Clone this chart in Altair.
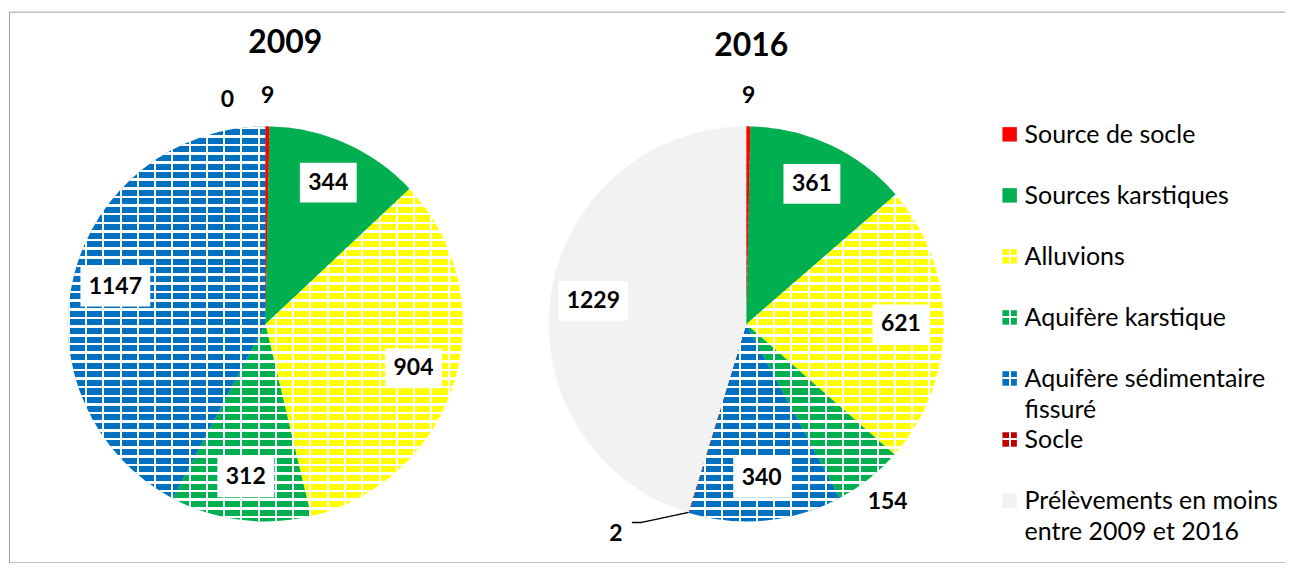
import altair as alt
import pandas as pd

# ---------------- data ----------------
years = ["2009", "2016"]
categories = [
    "Source de socle",
    "Sources karstiques",
    "Alluvions",
    "Aquifère karstique",
    "Aquifère sédimentaire fissuré",
    "Socle",
    "Prélèvements en moins entre 2009 et 2016",
]
legend_text = [
    "Source de socle",
    "Sources karstiques",
    "Alluvions",
    "Aquifère karstique",
    "Aquifère sédimentaire\nfissuré",
    "Socle",
    "Prélèvements en moins\nentre 2009 et 2016",
]
colors = ["#FF0000", "#00B050", "#FFFF00", "#00B050", "#0070C0", "#C00000", "#F2F2F2"]
patterned = [False, False, True, True, True, True, False]
values_2009 = [9, 344, 904, 312, 1147, 0]
values_2016 = [9, 361, 621, 154, 340, 2, 1229]

rows = []
for year, vals in zip(years, [values_2009, values_2016]):
    for i, v in enumerate(vals):
        rows.append({"year": year, "cat": categories[i], "order": i, "value": v, "pat": patterned[i]})
df = pd.DataFrame(rows)
legend_df = pd.DataFrame({"cat": categories, "text": legend_text, "pat": patterned})
title_df = pd.DataFrame({"year": years})

# ---------------- style ----------------
R = 198
LABEL_R = 155
WHITE = "#FFFFFF"
CLEAR = "rgba(255,255,255,0)"


def stripes(length, pitch, line, vertical):
    stops = []
    pos = 0.0
    while pos < length:
        a = pos / length
        b = min((pos + line) / length, 1.0)
        c = min((pos + pitch) / length, 1.0)
        stops += [
            alt.GradientStop(offset=a, color=WHITE),
            alt.GradientStop(offset=b, color=WHITE),
            alt.GradientStop(offset=b, color=CLEAR),
            alt.GradientStop(offset=c, color=CLEAR),
        ]
        pos += pitch
    if vertical:
        return alt.LinearGradient(gradient="linear", stops=stops, x1=0, x2=1, y1=0, y2=0)
    return alt.LinearGradient(gradient="linear", stops=stops, x1=0, x2=0, y1=0, y2=1)


h_grad = stripes(2 * R, 8.67, 2.6, False)
v_grad = stripes(2 * R, 17.3, 2.0, True)
sq_h = alt.LinearGradient(
    gradient="linear", x1=0, x2=0, y1=0, y2=1,
    stops=[alt.GradientStop(offset=0.0, color=CLEAR), alt.GradientStop(offset=0.42, color=CLEAR),
           alt.GradientStop(offset=0.42, color=WHITE), alt.GradientStop(offset=0.56, color=WHITE),
           alt.GradientStop(offset=0.56, color=CLEAR), alt.GradientStop(offset=1.0, color=CLEAR)])
sq_v = alt.LinearGradient(
    gradient="linear", x1=0, x2=1, y1=0, y2=0,
    stops=[alt.GradientStop(offset=0.0, color=CLEAR), alt.GradientStop(offset=0.44, color=CLEAR),
           alt.GradientStop(offset=0.44, color=WHITE), alt.GradientStop(offset=0.56, color=WHITE),
           alt.GradientStop(offset=0.56, color=CLEAR), alt.GradientStop(offset=1.0, color=CLEAR)])

CY = 313
X = alt.X("year:N", scale=alt.Scale(type="point", domain=years, range=[257, 739], padding=0), axis=None)
YC = alt.value(CY)
theta_scale = alt.Scale(domain=[0, 1], range=[0, 6.283185307179586])
color_scale = alt.Scale(domain=categories, range=colors)


def th(field):
    return alt.Theta(field, scale=theta_scale, stack=False)


base = (
    alt.Chart(df)
    .transform_joinaggregate(total="sum(value)", groupby=["year"])
    .transform_window(cum="sum(value)", groupby=["year"], sort=[alt.SortField("order", order="ascending")])
    .transform_calculate(
        s="(datum.cum - datum.value) / datum.total",
        e="datum.cum / datum.total",
        m="(datum.cum - datum.value / 2) / datum.total",
        lab="toString(datum.value)",
    )
)

pie = base.mark_arc(radius=R).encode(
    x=X, y=YC, theta=th("s:Q"), theta2="e:Q",
    color=alt.Color("cat:N", scale=color_scale, legend=None),
)
circle = base.transform_aggregate(s0="min(s)", e1="max(e)", groupby=["year"])
hstripe = circle.mark_arc(radius=R, fill=h_grad).encode(x=X, y=YC, theta=th("s0:Q"), theta2="e1:Q")
vstripe = circle.mark_arc(radius=R, fill=v_grad).encode(x=X, y=YC, theta=th("s0:Q"), theta2="e1:Q")
solid = base.transform_filter("!datum.pat").mark_arc(radius=R).encode(
    x=X, y=YC, theta=th("s:Q"), theta2="e:Q",
    color=alt.Color("cat:N", scale=color_scale, legend=None),
)

# white label boxes, positioned in cartesian offsets from each pie centre
inside = base.transform_filter("datum.value >= 200")
boxpos = inside.transform_calculate(
    ox=f"{LABEL_R / R} * sin(2 * PI * datum.m)",
    oy=f"{LABEL_R / R} * cos(2 * PI * datum.m)",
)
XO = alt.XOffset("ox:Q", scale=alt.Scale(domain=[-1, 1], range=[-R, R]))
YO = alt.Y("oy:Q", scale=alt.Scale(domain=[-1, 1], range=[CY + R, CY - R]), axis=None)
box3 = boxpos.transform_filter("length(datum.lab) <= 3").mark_point(
    shape="M-1,-0.70L1,-0.70L1,0.70L-1,0.70Z", size=57 * 57, filled=True, color="white", opacity=1
).encode(x=X, xOffset=XO, y=YO)
box4 = boxpos.transform_filter("length(datum.lab) > 3").mark_point(
    shape="M-1,-0.57L1,-0.57L1,0.57L-1,0.57Z", size=70 * 70, filled=True, color="white", opacity=1
).encode(x=X, xOffset=XO, y=YO)

lab_style = dict(font="Lato", fontWeight="bold", fontSize=23, color="black", align="center", baseline="middle")
labels_in = inside.mark_text(radius=LABEL_R, **lab_style).encode(x=X, y=YC, theta=th("m:Q"), text="lab:N")
labels_out = base.transform_filter("datum.value < 200 && datum.cat != 'Socle'").mark_text(
    radius=228, **lab_style).encode(x=X, y=YC, theta=th("m:Q"), text="lab:N")
socle09 = base.transform_filter("datum.year == '2009' && datum.cat == 'Socle'")
socle16 = base.transform_filter("datum.year == '2016' && datum.cat == 'Socle'")
lab_socle09 = socle09.mark_text(radius=228, dx=-38, dy=4, **lab_style).encode(
    x=X, y=YC, theta=th("m:Q"), text="lab:N")
lab_socle16 = socle16.mark_text(radius=198, dx=-73, dy=21, **lab_style).encode(
    x=X, y=YC, theta=th("m:Q"), text="lab:N")
lead_style = dict(font="DejaVu Sans Mono", fontSize=16, color="black", align="center", baseline="middle")
leader1 = socle16.mark_text(radius=198, angle=348, dx=-24, dy=0, **lead_style).encode(
    x=X, y=YC, theta=th("m:Q"), text=alt.value("─────"))
leader2 = socle16.mark_text(radius=198, dx=-52, dy=10, **lead_style).encode(
    x=X, y=YC, theta=th("m:Q"), text=alt.value("─"))

title_style = dict(font="Lato", fontWeight="bold", fontSize=32, color="black", align="center", baseline="alphabetic")
t09 = alt.Chart(title_df).transform_filter("datum.year == '2009'").mark_text(dx=20, **title_style).encode(
    x=X, y=alt.value(41), text="year:N")
t16 = alt.Chart(title_df).transform_filter("datum.year == '2016'").mark_text(dx=5, **title_style).encode(
    x=X, y=alt.value(44), text="year:N")

YL = alt.Y("cat:N", scale=alt.Scale(type="point", domain=categories, range=[123, 490], padding=0), axis=None)
lsq = alt.Chart(legend_df).mark_square(size=210, opacity=1).encode(
    x=alt.value(1003), y=YL, color=alt.Color("cat:N", scale=color_scale, legend=None))
lsq_h = alt.Chart(legend_df).transform_filter("datum.pat").mark_square(size=210, opacity=1, fill=sq_h).encode(
    x=alt.value(1003), y=YL)
lsq_v = alt.Chart(legend_df).transform_filter("datum.pat").mark_square(size=210, opacity=1, fill=sq_v).encode(
    x=alt.value(1003), y=YL)
ltext = alt.Chart(legend_df).mark_text(
    align="left", baseline="alphabetic", dy=9, lineBreak="\n", lineHeight=31,
    font="Lato", fontSize=25, color="black",
).encode(x=alt.value(1018), y=YL, text="text:N")

chart = (
    alt.layer(pie, hstripe, vstripe, solid, box3, box4, labels_in, labels_out, lab_socle09, lab_socle16,
              leader1, leader2, t09, t16, lsq, lsq_h, lsq_v, ltext)
    .resolve_scale(y="independent")
    .properties(width=1279, height=552, padding={"left": 1, "top": 3, "right": 0, "bottom": 0})
    .configure_view(stroke="#9d9d9d", strokeWidth=1)
)
chart.save("out.html", embed_options={"renderer": "svg", "actions": False})
